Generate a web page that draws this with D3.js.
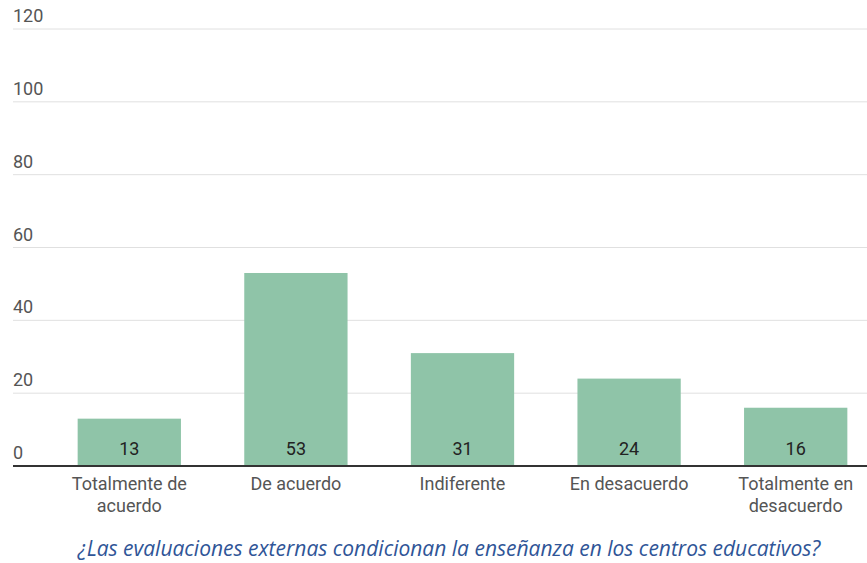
<!DOCTYPE html>
<html>
<head>
<meta charset="utf-8">
<script src="https://cdn.jsdelivr.net/npm/d3@7"></script>
<style>
  body { margin: 0; background: #fff; }
  svg { display: block; }
</style>
</head>
<body>
<div id="chart"></div>
<script>
var categories = [['Totalmente de', 'acuerdo'], ['De acuerdo'], ['Indiferente'], ['En desacuerdo'], ['Totalmente en', 'desacuerdo']];
var values = [13, 53, 31, 24, 16];
var yTicks = [0, 20, 40, 60, 80, 100, 120];
var title = '¿Las evaluaciones externas condicionan la enseñanza en los centros educativos?';

var width = 867, height = 563;

var svg = d3.select('#chart').append('svg').attr('width', width).attr('height', height);

var keys = categories.map(function(d) { return d.join(' '); });

var xScale = d3.scaleBand().domain(keys).range([46, 879]).paddingInner(0.38).paddingOuter(0.19);
var yScale = d3.scaleLinear().domain([0, 120]).range([466, 29]);

// grid lines + tick labels
var grid = svg.append('g');
grid.selectAll('line').data(yTicks.filter(function(t) { return t > 0; })).enter()
  .append('line')
  .attr('x1', 13).attr('x2', width)
  .attr('y1', (d) => yScale(d)).attr('y2', (d) => yScale(d))
  .attr('stroke', '#e0e0e0').attr('stroke-width', 1);
grid.selectAll('text').data(yTicks).enter()
  .append('text')
  .attr('x', 13)
  .attr('y', (d) => yScale(d) - 7)
  .attr('font-family', 'Roboto, sans-serif')
  .attr('font-size', 18)
  .attr('fill', '#555')
  .text((d) => d);

// bars
var data = keys.map(function(k, i) { return {key: k, lines: categories[i], value: values[i]}; });
var bars = svg.selectAll('.bar').data(data).enter();
bars.append('rect')
  .attr('x', (d) => xScale(d.key))
  .attr('y', (d) => yScale(d.value))
  .attr('width', xScale.bandwidth())
  .attr('height', (d) => yScale(0) - yScale(d.value))
  .attr('fill', '#8fc4a8');
bars.append('text')
  .attr('x', (d) => xScale(d.key) + xScale.bandwidth() / 2)
  .attr('y', yScale(0) - 11)
  .attr('text-anchor', 'middle')
  .attr('font-family', 'Roboto, sans-serif')
  .attr('font-size', 18)
  .attr('fill', '#222')
  .text((d) => d.value);

// baseline
svg.append('line')
  .attr('x1', 13).attr('x2', width)
  .attr('y1', yScale(0)).attr('y2', yScale(0))
  .attr('stroke', '#333').attr('stroke-width', 2);

// category labels
var labels = svg.selectAll('.xl').data(data).enter()
  .append('text')
  .attr('text-anchor', 'middle')
  .attr('font-family', 'Roboto, sans-serif')
  .attr('font-size', 18)
  .attr('fill', '#555');
labels.selectAll('tspan').data((d) => d.lines.map(function(l) { return {l: l, x: xScale(d.key) + xScale.bandwidth() / 2}; })).enter()
  .append('tspan')
  .attr('x', (d) => d.x)
  .attr('y', (d, i) => 490 + i * 22)
  .text((d) => d.l);

// title
svg.append('text')
  .attr('x', 449)
  .attr('y', 556)
  .attr('text-anchor', 'middle')
  .attr('font-family', 'Open Sans, sans-serif')
  .attr('font-style', 'italic')
  .attr('font-size', 21)
  .attr('fill', '#2f5597')
  .text(title);
</script>
</body>
</html>
